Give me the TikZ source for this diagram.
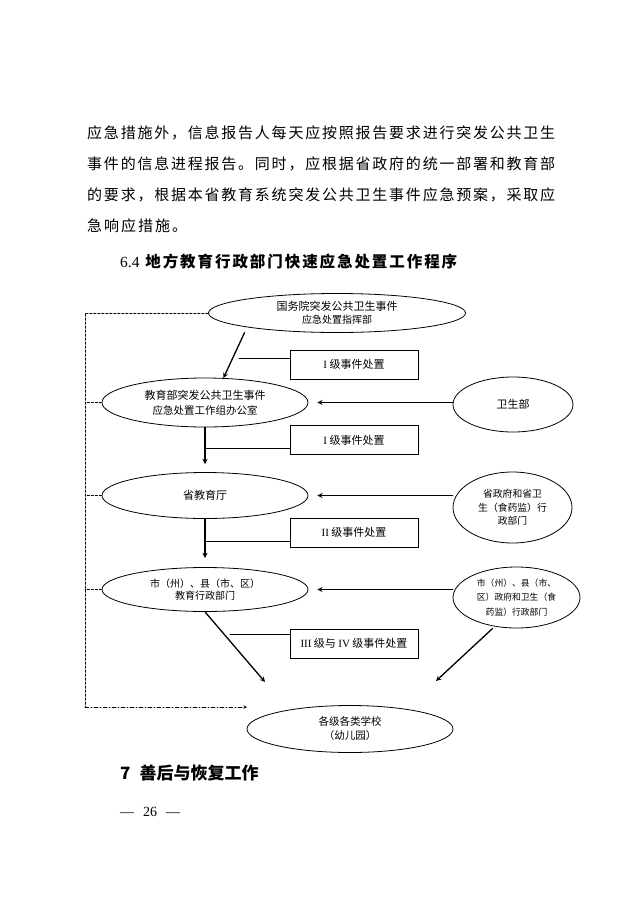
\documentclass[tikz,border=0pt]{standalone}
\usepackage{fontspec}
\setmainfont{Liberation Serif}
\newfontfamily\cjk{Noto Sans CJK SC}
\usetikzlibrary{shapes.geometric}

% spread the characters of a line over a given width
\ExplSyntaxOn
\NewDocumentCommand\spreadline{mm}{\makebox[#1][s]{\tl_map_inline:nn{#2}{##1\hfil}\unskip}}
\ExplSyntaxOff

\def\lx{205}  % centre line of the left column
\def\bx{354}  % centre line of the boxes
\def\dx{85}   % dashed line on the left

\begin{document}
\begin{tikzpicture}[x=1pt, y=-1pt, >=stealth, line cap=round,
    ell/.style={ellipse, draw, line width=0.8pt, inner sep=0pt, align=center,
                font=\cjk\fontsize{11}{13}\selectfont},
    lvbox/.style={rectangle, draw, line width=0.9pt, minimum width=128pt,
                minimum height=29pt, inner sep=0pt,
                font=\cjk\fontsize{11}{13}\selectfont},
    arr/.style={->, line width=1.3pt},
    link/.style={line width=0.9pt},
    dsh/.style={line width=0.5pt, dash pattern=on 2.5pt off 1.5pt},
    dshdot/.style={line width=0.6pt, dash pattern=on 4pt off 2pt on 1pt off 2pt},
    txt/.style={anchor=west, inner sep=0pt, font=\cjk\fontsize{15}{18}\selectfont}
  ]
\useasboundingbox[fill=white] (0,0) rectangle (636,900);

% running text
\node[txt] (p1) at (87,133) {\spreadline{468pt}{应急措施外，信息报告人每天应按照报告要求进行突发公共卫生}};
\node[txt] (p2) at (87,164) {\spreadline{468pt}{事件的信息进程报告。同时，应根据省政府的统一部署和教育部}};
\node[txt] (p3) at (87,195) {\spreadline{468pt}{的要求，根据本省教育系统突发公共卫生事件应急预案，采取应}};
\node[txt] (p4) at (87,226) {\spreadline{100pt}{急响应措施。}};
\node[txt, font=\cjk\bfseries\fontsize{15.5}{18}\selectfont] (h64) at (120,262)
    {\spreadline{337pt}{{{\rmfamily\mdseries 6.4\ }}地方教育行政部门快速应急处置工作程序}};

% ellipses
\node[ell, minimum width=257pt, minimum height=39pt] (gwy) at (337,313)
    {国务院突发公共卫生事件\\{\fontsize{10}{12}\selectfont 应急处置指挥部}};
\node[ell, minimum width=206pt, minimum height=49pt] (jyb) at (\lx,402.5)
    {教育部突发公共卫生事件\\[2pt]{\fontsize{10.5}{12}\selectfont 应急处置工作组办公室}};
\node[ell, minimum width=206pt, minimum height=46pt] (sjt) at (\lx,495.5) {省教育厅};
\node[ell, minimum width=206pt, minimum height=44pt,
      font=\cjk\fontsize{10}{12}\selectfont] (sxj) at (\lx,589.5)
    {市（州）、县（市、区）\\教育行政部门};
\node[ell, minimum width=206pt, minimum height=47pt,
      font=\cjk\fontsize{10.5}{14}\selectfont] (xx) at (350,729)
    {各级各类学校\\（幼儿园）};

\node[ell, minimum width=120pt, minimum height=55pt] (wsb) at (513,404.5) {卫生部};
\node[ell, minimum width=119pt, minimum height=71pt,
      font=\cjk\fontsize{9.8}{13.5}\selectfont] (szf) at (512.5,507.5)
    {省政府和省卫\\生（食药监）行\\政部门};
\node[ell, minimum width=127pt, minimum height=61pt,
      font=\cjk\fontsize{8.8}{14.5}\selectfont] (sxzf) at (516.5,597.5)
    {市（州）、县（市、\\区）政府和卫生（食\\药监）行政部门};

% boxes
\node[lvbox] (b1) at (\bx,364.5) {{\rmfamily I} 级事件处置};
\node[lvbox] (b2) at (\bx,440) {{\rmfamily I} 级事件处置};
\node[lvbox] (b3) at (\bx,532.8) {{\rmfamily II} 级事件处置};
\node[lvbox] (b4) at (\bx,643.5) {{\rmfamily III} 级与 {\rmfamily IV} 级事件处置};

\coordinate (t2) at (\lx,464);
\coordinate (t3) at (\lx,558);
\coordinate (tl) at (265,682);
\coordinate (tr) at (436,681);
\coordinate (k1) at (239,358.7);
\coordinate (k2) at (\lx,448.3);
\coordinate (k3) at (\lx,541.7);
\coordinate (k4) at (230,634);
\coordinate (ctl) at (\dx,313);
\coordinate (cbl) at (\dx,707);
\coordinate (tb) at (247,707);

% arrows
\draw[arr, shorten <=6pt] (gwy.189) -- (jyb.53);
\draw[arr] (jyb.south) -- (t2);
\draw[arr] (sjt.south) -- (t3);
\draw[arr] (sxj.south) -- (tl);
\draw[arr, shorten <=3pt] (sxzf.233) -- (tr);
\foreach \s/\e in {wsb/jyb, szf/sjt, sxzf/sxj}{
  \coordinate (r) at ([xshift=9pt]\e.east);
  \draw[arr] (\s.west |- \e.east) -- (r);
}
\foreach \i in {1,...,4}
  \draw[link] (k\i) -- (k\i -| b\i.west);

% dashed line on the left
\draw[dsh] (gwy.west) -- (ctl) -- (cbl);
\foreach \e in {jyb,sjt,sxj}
  \draw[dsh] (\e.west) -- (\e.west -| ctl);
\draw[dshdot, ->] (cbl) -- (tb);

\node[txt, font=\cjk\bfseries\fontsize{17}{20}\selectfont] (h7) at (120,773)
    {\spreadline{135pt}{{{7\hspace{9pt}}}善后与恢复工作}};
\node[txt, font=\fontsize{14}{16}\selectfont] (pg) at (120,812)
    {\makebox[60pt][s]{— 26 —}};
\end{tikzpicture}
\end{document}
